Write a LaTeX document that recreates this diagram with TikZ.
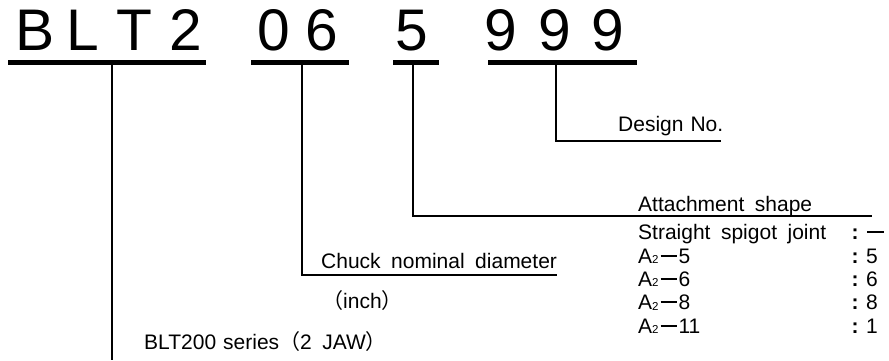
\documentclass[tikz,border=0pt]{standalone}
\usepackage{fontspec}
\setmainfont{Liberation Sans}
\newfontfamily\cjk{Noto Sans CJK JP}
\newcommand{\ws}{\hspace{10.5pt}}
\newcommand{\sub}{\raisebox{-0.5pt}{\fontsize{11.5}{11.5}\selectfont 2}}
\newcommand{\dsh}{\kern2pt\rule[6.5pt]{16pt}{1.8pt}\kern2pt}
\begin{document}
\begin{tikzpicture}[x=1pt,y=-1pt,
  big/.style={inner sep=0pt,anchor=base,font=\fontsize{58.7}{60}\selectfont},
  lbl/.style={inner sep=0pt,anchor=base west,font=\fontsize{21}{23}\selectfont},
  colon/.style={inner sep=0pt,anchor=base,font=\fontsize{21}{23}\selectfont\bfseries},
  bar/.style={fill=black,inner sep=0pt,minimum height=5pt},
  conn/.style={line width=1.5pt}]
\useasboundingbox (0,0) rectangle (889,360);
% big code letters
\node[big] (cB) at (35,50) {B};
\node[big] (cL) at (83,50) {L};
\node[big] (cT) at (134,50) {T};
\node[big] (c2) at (186,50) {2};
\node[big] (c0) at (274,50) {0};
\node[big] (c6) at (322,50) {6};
\node[big] (c5) at (412,50) {5};
\node[big] (c9a) at (501,50) {9};
\node[big] (c9b) at (555,50) {9};
\node[big] (c9c) at (608,50) {9};
% bars
\node[bar,minimum width=198pt] (barA) at (107,62.5) {};
\node[bar,minimum width=98pt] (barB) at (300,62.5) {};
\node[bar,minimum width=46pt] (barC) at (416,62.5) {};
\node[bar,minimum width=149pt] (barD) at (562.5,62.5) {};
% labels
\node[lbl] (design) at (618,131) {Design\hspace{7pt}No.};
\node[lbl] (attach) at (638,211) {Attachment\ws shape};
\node[lbl] (ssj) at (638,239) {Straight\ws spigot\ws joint};
\node[lbl] (r5) at (638,263) {A\sub\dsh5};
\node[lbl] (r6) at (638,286.3) {A\sub\dsh6};
\node[lbl] (r8) at (638,309.6) {A\sub\dsh8};
\node[lbl] (r11) at (638,333) {A\sub\dsh11};
\node[colon] (k0) at (855,239) {:};
\node[colon] (k5) at (855,263) {:};
\node[colon] (k6) at (855,286.3) {:};
\node[colon] (k8) at (855,309.6) {:};
\node[colon] (k11) at (855,333) {:};
\node[lbl] (v0) at (867,239) {\rule[6.5pt]{17pt}{1.8pt}};
\node[lbl] (v5) at (866,263) {5};
\node[lbl] (v6) at (866,286.3) {6};
\node[lbl] (v8) at (866,309.6) {8};
\node[lbl] (v11) at (866,333) {1};
\node[lbl] (chuck) at (321,268) {Chuck\ws nominal\ws diameter};
\node[lbl] (inch) at (322,308) {{\cjk （}inch{\cjk ）}};
\node[lbl] (series) at (144,349) {BLT200\hspace{7pt}series{\cjk （}2\ws JAW{\cjk ）}};
% connector ends
\coordinate (endD) at (721,141);
\coordinate (endC) at (872,216);
\coordinate (endB) at (557,275);
\coordinate (endA) at (112,360);
% connectors
\draw[conn] ([xshift=-6.5pt]barD.south) |- (endD);
\draw[conn] ([xshift=-3pt]barC.south) |- (endC);
\draw[conn] ([xshift=2pt]barB.south) |- (endB);
\draw[conn] ([xshift=5pt]barA.south) -- (endA);
\end{tikzpicture}
\end{document}
